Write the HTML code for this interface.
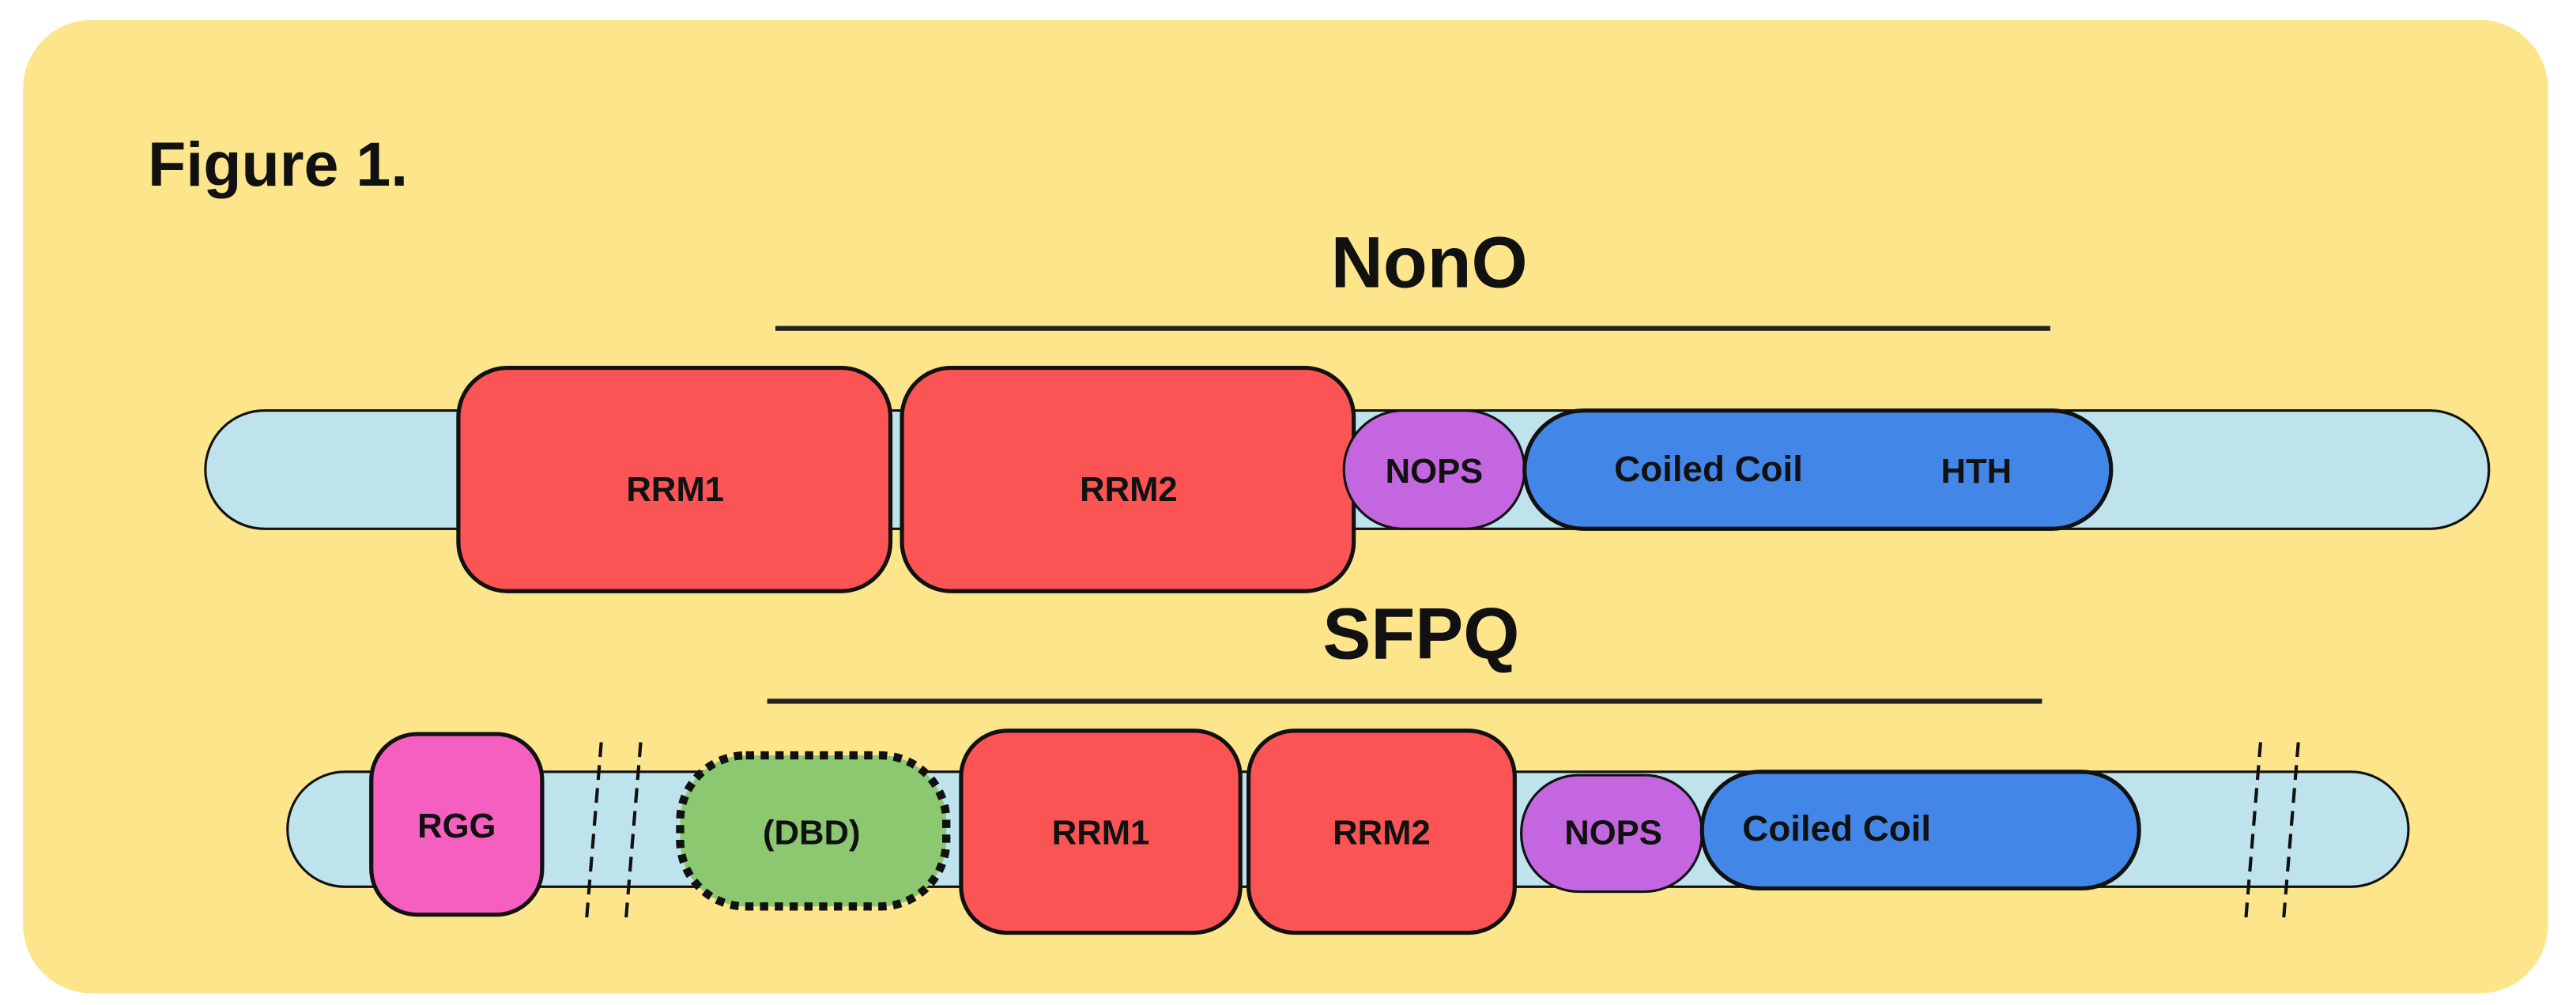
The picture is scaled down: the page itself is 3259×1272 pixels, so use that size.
<!DOCTYPE html>
<html><head><meta charset="utf-8"><style>
html,body{margin:0;padding:0;background:#fff;}
svg{display:block;}
text{font-family:"Liberation Sans",sans-serif;font-weight:bold;fill:#111;}
</style></head><body>
<svg width="3259" height="1272" viewBox="0 0 1568 612" xmlns="http://www.w3.org/2000/svg">
<rect x="14" y="12" width="1537" height="593" rx="42" fill="#fde58c"/>
<text x="90" y="113" font-size="38">Figure 1.</text>
<text x="870" y="175" font-size="44" text-anchor="middle">NonO</text>
<rect x="472" y="198.5" width="776" height="3" fill="#222"/>
<!-- NonO -->
<rect x="125" y="250" width="1390" height="72" rx="36" fill="#bfe3ec" stroke="#111" stroke-width="1.5"/>
<rect x="279" y="224" width="263" height="136" rx="30" fill="#fb5454" stroke="#111" stroke-width="2.5"/>
<rect x="549" y="224" width="275" height="136" rx="30" fill="#fb5454" stroke="#111" stroke-width="2.5"/>
<rect x="818" y="250" width="110" height="72" rx="36" fill="#c466e0" stroke="#111" stroke-width="1.5"/>
<rect x="928" y="250" width="357" height="72" rx="36" fill="#4287e8" stroke="#111" stroke-width="2.5"/>
<text x="411" y="305" font-size="21" text-anchor="middle">RRM1</text>
<text x="687" y="305" font-size="21" text-anchor="middle">RRM2</text>
<text x="873" y="294" font-size="21" text-anchor="middle">NOPS</text>
<text x="1040" y="293" font-size="22" text-anchor="middle">Coiled Coil</text>
<text x="1203" y="294" font-size="21" text-anchor="middle">HTH</text>
<!-- SFPQ -->
<text x="865" y="401" font-size="44" text-anchor="middle">SFPQ</text>
<rect x="467" y="425.5" width="776" height="3" fill="#222"/>
<rect x="175" y="470" width="1291" height="70" rx="35" fill="#bfe3ec" stroke="#111" stroke-width="1.5"/>
<rect x="226" y="447" width="104" height="110" rx="28" fill="#f560c0" stroke="#111" stroke-width="2.5"/>
<g stroke="#111" stroke-width="2" stroke-dasharray="9,5">
<line x1="366" y1="452" x2="357" y2="560"/>
<line x1="390" y1="452" x2="381" y2="560"/>
<line x1="1376" y1="452" x2="1367" y2="560"/>
<line x1="1399" y1="452" x2="1390" y2="560"/>
</g>
<rect x="414" y="460" width="162" height="92" rx="40" fill="#8cc870" stroke="#111" stroke-width="5" stroke-dasharray="5,4"/>
<rect x="585" y="445" width="170" height="123" rx="28" fill="#fb5454" stroke="#111" stroke-width="2.5"/>
<rect x="760" y="445" width="162" height="123" rx="28" fill="#fb5454" stroke="#111" stroke-width="2.5"/>
<rect x="926" y="472" width="110" height="71" rx="35" fill="#c466e0" stroke="#111" stroke-width="1.5"/>
<rect x="1036" y="470" width="266" height="71" rx="35" fill="#4287e8" stroke="#111" stroke-width="2.5"/>
<text x="278" y="510" font-size="21" text-anchor="middle">RGG</text>
<text x="494" y="514" font-size="21" text-anchor="middle">(DBD)</text>
<text x="670" y="514" font-size="21" text-anchor="middle">RRM1</text>
<text x="841" y="514" font-size="21" text-anchor="middle">RRM2</text>
<text x="982" y="514" font-size="21" text-anchor="middle">NOPS</text>
<text x="1118" y="512" font-size="22" text-anchor="middle">Coiled Coil</text>
</svg>
</body></html>
